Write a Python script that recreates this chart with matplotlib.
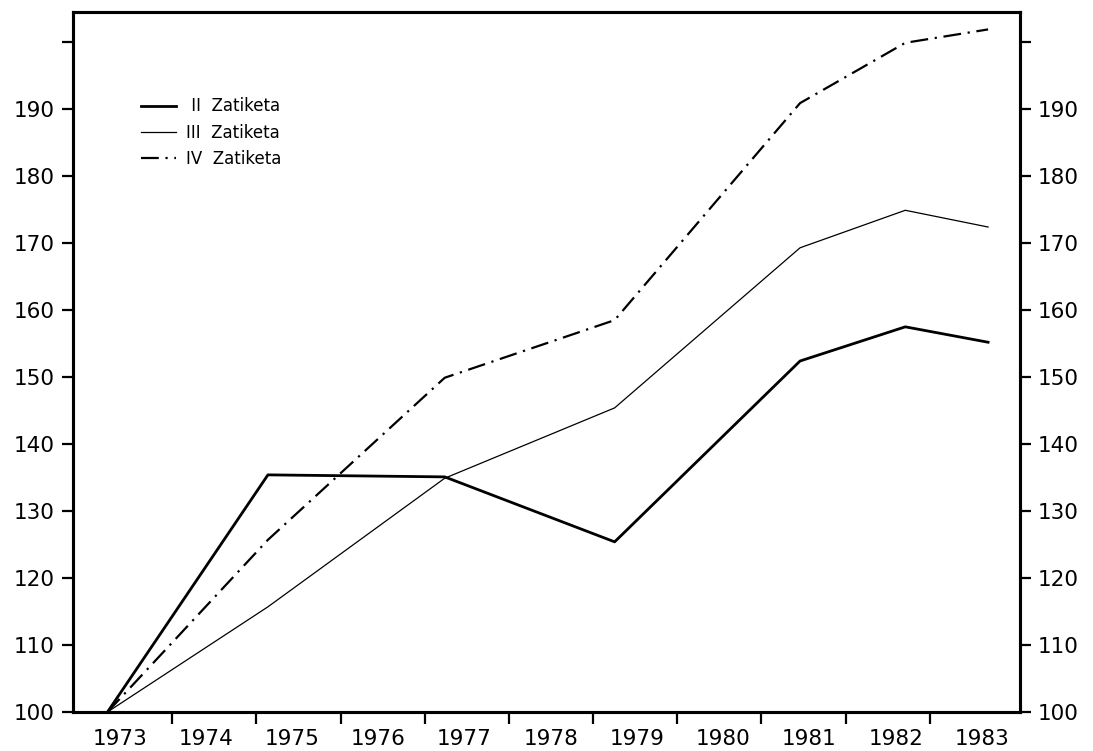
import numpy as np
import matplotlib.pyplot as plt

# data (index values, 1973 = 100)
years = [1973, 1974, 1975, 1976, 1977, 1978, 1979, 1980, 1981, 1982, 1983]
pos = [1972.86, 1974.72, 1976.77, 1978.74, 1980.89, 1982.11, 1983.07]  # where the hand-drawn vertices sit
zat_II = [100, 135.4, 135.1, 125.4, 152.4, 157.5, 155.2]
zat_III = [100, 115.7, 134.9, 145.4, 169.3, 174.9, 172.4]
zat_IV = [100, 125.7, 149.9, 158.5, 190.9, 199.9, 201.9]
labels = ['II  Zatiketa', 'III  Zatiketa', 'IV  Zatiketa']

plt.rcParams['font.family'] = 'DejaVu Sans'

fig = plt.figure(figsize=(10.93, 7.51), dpi=100)
ax = fig.add_axes([73/1093, 39/751, 947/1093, 700/751])

ax.plot(pos, zat_II, color='black', lw=2.0, label=' ' + labels[0])
ax.plot(pos, zat_III, color='black', lw=0.9, label=labels[1])
ax.plot(pos, zat_IV, color='black', lw=1.6, dashes=(8, 3, 1, 3), label=labels[2])

ax.set_xlim(1972.46, 1983.44)
ax.set_ylim(100, 204.5)

# x: tick marks between the years, labels on the years
bounds = 1973.61 + 0.976*np.arange(10)
ax.set_xticks(bounds)
ax.set_xticklabels([])
ax.set_xticks(years, minor=True)
ax.set_xticklabels([str(y) for y in years], minor=True, fontsize=15.5)
ax.tick_params(axis='x', which='major', direction='out', length=8.5, width=1.6)
ax.tick_params(axis='x', which='minor', length=0, pad=12)

yt = np.arange(100, 201, 10)
ylab = [str(v) for v in yt[:-1]] + ['']
ax.set_yticks(yt)
ax.set_yticklabels(ylab, fontsize=15.5)
ax.tick_params(axis='y', direction='out', length=8, width=1.6, pad=5)

ax2 = ax.twinx()
ax2.set_ylim(100, 204.5)
ax2.set_yticks(yt)
ax2.set_yticklabels(ylab, fontsize=15.5)
ax2.tick_params(axis='y', direction='out', length=8, width=1.6, pad=5)

for a in (ax, ax2):
    for s in a.spines.values():
        s.set_linewidth(2.2)

ax.legend(loc='upper left', bbox_to_anchor=(0.072, 0.878), frameon=False,
          fontsize=12, handlelength=2.1, handletextpad=0.6, labelspacing=0.5,
          borderpad=0, borderaxespad=0)

plt.savefig('out.png', dpi=100)
